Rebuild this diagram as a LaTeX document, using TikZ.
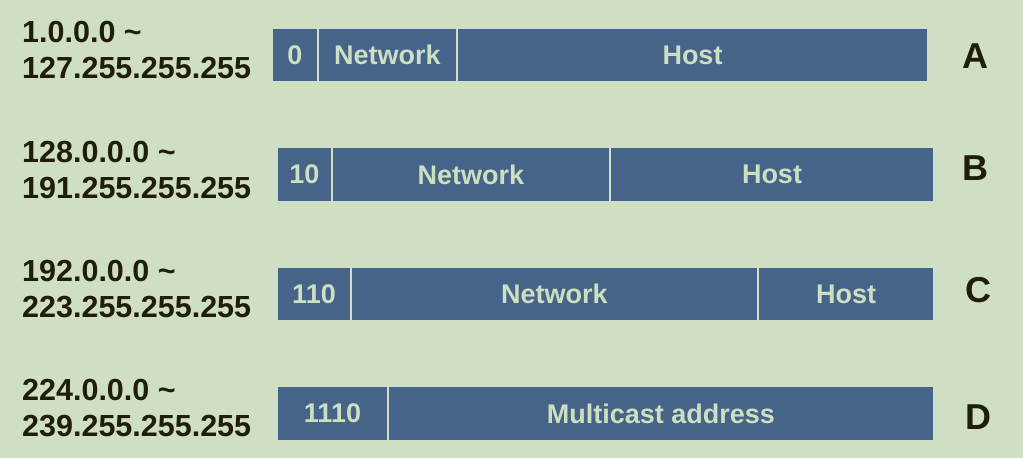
\documentclass[tikz,border=0pt]{standalone}
\usepackage{fontspec}
\setmainfont{Liberation Sans}
\definecolor{bg}{HTML}{CFDFC4}
\definecolor{bar}{HTML}{46638A}
\definecolor{bartext}{HTML}{CCDFC0}
\definecolor{dark}{HTML}{211E08}
\tikzset{
  segbar/.style={fill=bar, draw=none, inner sep=0pt, text=bartext,
    font=\bfseries\fontsize{27}{30}\selectfont},
  rangetxt/.style={anchor=west, inner sep=0pt, align=left, text=dark,
    font=\bfseries\fontsize{30.5}{36}\selectfont},
  classlbl/.style={inner sep=0pt, text=dark, font=\bfseries\fontsize{36}{40}\selectfont}
}
\newcommand\segbox[6]{%
  \node[segbar, minimum width={(#3-#2)*1pt}, minimum height={(#5-#4)*1pt}]
    (#1) at ({(#2+#3)/2},{(#4+#5)/2}) {#6};}
\begin{document}
\begin{tikzpicture}[x=1pt,y=-1pt]
\fill[bg] (0,0) rectangle (1023,458);
\useasboundingbox (0,0) rectangle (1023,458);
% Class A
\node[rangetxt] (rA) at (22,50) {1.0.0.0 \char`~\\127.255.255.255};
\segbox{a1}{273}{317}{29}{81}{0}
\segbox{a2}{319}{456}{29}{81}{Network}
\segbox{a3}{458}{927}{29}{81}{Host}
\node[classlbl] (lA) at (975,56) {A};
% Class B
\node[rangetxt] (rB) at (22,169.5) {128.0.0.0 \char`~\\191.255.255.255};
\segbox{b1}{278}{331}{148}{201}{10}
\segbox{b2}{333}{609}{148}{201}{Network}
\segbox{b3}{611}{933}{148}{201}{Host}
\node[classlbl] (lB) at (975,168) {B};
% Class C
\node[rangetxt] (rC) at (22,289) {192.0.0.0 \char`~\\223.255.255.255};
\segbox{c1}{278}{350}{268}{320}{110}
\segbox{c2}{352}{757}{268}{320}{Network}
\segbox{c3}{759}{933}{268}{320}{Host}
\node[classlbl] (lC) at (978,290) {C};
% Class D
\node[rangetxt] (rD) at (22,408.5) {224.0.0.0 \char`~\\239.255.255.255};
\segbox{d1}{278}{387}{387}{440}{1110}
\segbox{d2}{389}{933}{387}{440}{Multicast address}
\node[classlbl] (lD) at (978,417) {D};
\end{tikzpicture}
\end{document}
